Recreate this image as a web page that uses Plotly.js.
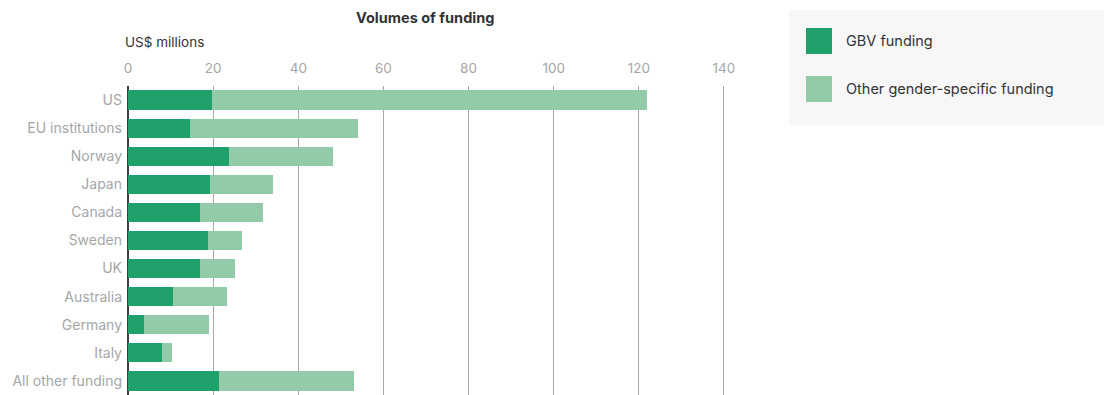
<!DOCTYPE html>
<html>
<head>
<meta charset="utf-8">
<script src="https://cdn.plot.ly/plotly-3.0.1.min.js"></script>
<style>
  html, body { margin: 0; padding: 0; background: #ffffff; }
  #chart { width: 1104px; height: 395px; }
</style>
</head>
<body>
<div id="chart"></div>
<script>
// Donors, top to bottom
const donors = ["US", "EU institutions", "Norway", "Japan", "Canada", "Sweden", "UK", "Australia", "Germany", "Italy", "All other funding"];
// US$ millions
const gbvFunding = [19.8, 14.6, 23.7, 19.2, 16.9, 18.7, 16.9, 10.5, 3.7, 7.9, 21.4];
const otherGenderFunding = [102.0, 39.5, 24.4, 14.9, 14.9, 8.0, 8.2, 12.8, 15.4, 2.5, 31.6];
const xTicks = [0, 20, 40, 60, 80, 100, 120, 140];
const seriesNames = ["GBV funding", "Other gender-specific funding"];

const W = 1104, H = 395;
const M = { l: 128, r: 363, t: 86, b: 0 };
const plotW = W - M.l - M.r, plotH = H - M.t - M.b;
// pixel -> paper helpers for the legend panel
const px = x => (x - M.l) / plotW;
const py = y => (H - M.b - y) / plotH;

const darkGreen = "#20a06b";
const lightGreen = "#93cba9";
const FONT = "Inter, 'Open Sans', sans-serif";

const traces = [
  { type: "bar", orientation: "h", name: seriesNames[0], y: donors, x: gbvFunding,
    marker: { color: darkGreen, line: { width: 0 } }, hoverinfo: "x+y" },
  { type: "bar", orientation: "h", name: seriesNames[1], y: donors, x: otherGenderFunding,
    marker: { color: lightGreen, line: { width: 0 } }, hoverinfo: "x+y" }
];

const legendY = [41, 89];
const legendColors = [darkGreen, lightGreen];

const shapes = [
  { type: "rect", xref: "paper", yref: "paper", x0: px(789), x1: px(1104), y0: py(125), y1: py(10),
    fillcolor: "#f7f7f7", line: { width: 0 }, layer: "below" }
];
const annotations = [
  { xref: "paper", yref: "paper", x: px(425), y: py(17), text: "<b>Volumes of funding</b>", showarrow: false,
    xanchor: "center", yanchor: "middle", font: { family: FONT, size: 14.5, color: "#333333" } },
  { xref: "paper", yref: "paper", x: px(123), y: py(42), text: "US$ millions", showarrow: false,
    xanchor: "left", yanchor: "middle", font: { family: FONT, size: 13.5, color: "#333333" } }
];
seriesNames.forEach((name, i) => {
  shapes.push({ type: "rect", xref: "paper", yref: "paper", x0: px(806), x1: px(832),
    y0: py(legendY[i] + 13), y1: py(legendY[i] - 13), fillcolor: legendColors[i], line: { width: 0 } });
  annotations.push({ xref: "paper", yref: "paper", x: px(844), y: py(legendY[i]), text: name, showarrow: false,
    xanchor: "left", yanchor: "middle", font: { family: FONT, size: 14.5, color: "#333333" } });
});

const layout = {
  width: W, height: H,
  margin: M,
  paper_bgcolor: "#ffffff", plot_bgcolor: "#ffffff",
  barmode: "stack", bargap: 0.32,
  showlegend: false,
  font: { family: FONT, size: 13, color: "#a6a6a6" },
  xaxis: {
    side: "top", range: [0, 144], tickvals: xTicks, ticktext: xTicks.map(String),
    showgrid: true, gridcolor: "#aaaaaa", gridwidth: 1,
    zeroline: true, zerolinecolor: "#3d3d3d", zerolinewidth: 2,
    ticks: "", showline: false, fixedrange: true, ticklabelstandoff: 9,
    tickfont: { family: FONT, size: 13.5, color: "#a6a6a6" }
  },
  yaxis: {
    autorange: "reversed", showgrid: false, zeroline: false, showline: false, ticks: "",
    ticklabelstandoff: 5,
    tickfont: { family: FONT, size: 14, color: "#a6a6a6" }, fixedrange: true
  },
  shapes: shapes,
  annotations: annotations
};

Plotly.newPlot("chart", traces, layout, { displayModeBar: false, responsive: false });
</script>
</body>
</html>
